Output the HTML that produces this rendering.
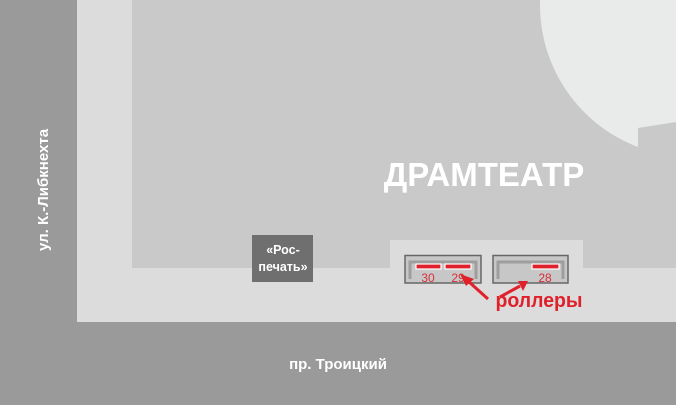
<!DOCTYPE html>
<html><head><meta charset="utf-8"><style>
body{margin:0;width:676px;height:405px;overflow:hidden;font-family:"Liberation Sans",sans-serif}
</style></head><body>
<svg width="676" height="405" xmlns="http://www.w3.org/2000/svg" style="display:block">
<rect width="676" height="405" fill="#dbdcdb"/>
<rect x="0" y="0" width="77" height="405" fill="#999a99"/>
<rect x="0" y="322" width="676" height="83" fill="#999a99"/>
<path d="M132 0H676V268H583V240H390V268H132Z" fill="#c8c9c8"/>
<clipPath id="c"><path d="M520 0H676V122L638 128V170H520Z"/></clipPath>
<circle cx="692" cy="5" r="152" fill="#e9eaea" clip-path="url(#c)"/>
<text x="484" y="186" font-size="33" font-weight="bold" fill="#fff" text-anchor="middle">ДРАМТЕАТР</text>
<text x="48" y="190" font-size="15" font-weight="bold" fill="#fff" text-anchor="middle" transform="rotate(-90 48 190)">ул. К.-Либкнехта</text>
<text x="338" y="369" font-size="15" font-weight="bold" fill="#fff" text-anchor="middle">пр. Троицкий</text>
<rect x="252" y="235" width="61" height="47" fill="#6e6f6e"/>
<text x="283" y="254" font-size="12.5" font-weight="bold" fill="#fff" text-anchor="middle">«Рос-</text>
<text x="283" y="271" font-size="12.5" font-weight="bold" fill="#fff" text-anchor="middle">печать»</text>
<g stroke="#666" stroke-width="1.5" fill="#c6c7c6">
<rect x="405" y="255.5" width="76" height="27.5"/>
<rect x="493" y="255.5" width="75" height="27.5"/>
</g>
<g stroke="#9d9e9d" stroke-width="3" fill="none">
<path d="M410 279V262H476V279"/>
<path d="M498 279V262H563V279"/>
</g>
<g fill="#e0202a" stroke="#fff" stroke-width="1.2">
<rect x="416" y="264" width="25" height="5"/>
<rect x="445" y="264" width="26" height="5"/>
<rect x="532" y="264" width="27" height="5"/>
</g>
<g font-size="12" fill="#d9303a" text-anchor="middle">
<text x="428" y="282">30</text><text x="458" y="282">29</text><text x="545" y="282">28</text>
</g>
<g stroke="#e0202a" stroke-width="3" fill="#e0202a">
<line x1="488" y1="299" x2="468" y2="281"/>
<line x1="500" y1="297" x2="520" y2="286"/>
</g>
<polygon points="460,274 474,279 466,286" fill="#e0202a"/>
<polygon points="528,281 518,281 523,291" fill="#e0202a"/>
<text x="539" y="307" font-size="20" font-weight="bold" fill="#e0202a" text-anchor="middle" textLength="87" lengthAdjust="spacingAndGlyphs">роллеры</text>
</svg>
</body></html>
